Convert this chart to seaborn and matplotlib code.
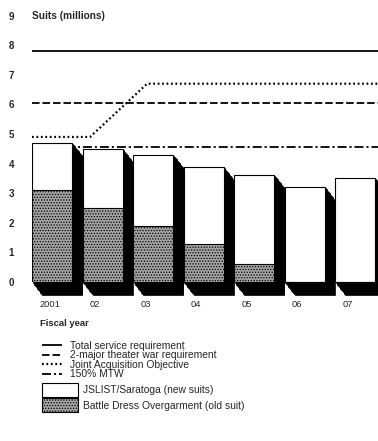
import matplotlib
matplotlib.use("Agg")
import matplotlib.pyplot as plt
import seaborn as sns
import pandas as pd
from matplotlib.transforms import ScaledTranslation, blended_transform_factory
from matplotlib.patches import Rectangle, Patch
from matplotlib.lines import Line2D

# ---- data (suits, millions) ----
fiscal_years = ["2001", "02", "03", "04", "05", "06", "07"]
total_suits = [4.7, 4.5, 4.3, 3.9, 3.6, 3.2, 3.5]        # JSLIST/Saratoga + BDO
old_suits = [3.1, 2.5, 1.9, 1.3, 0.6, 0.0, 0.0]          # Battle Dress Overgarment

total_service_req = 7.8
two_mtw_req = 6.05
mtw_150 = 4.55
jao_pos = [-0.4, 0.75, 1.88, 6.45]                        # positions along fiscal-year axis
jao_values = [4.9, 4.9, 6.7, 6.7]
y_ticks = list(range(10))

sns.set_style("white")
plt.rcParams["font.family"] = ["Liberation Sans", "DejaVu Sans"]
plt.rcParams["hatch.linewidth"] = 0.6

DPI = 100
fig = plt.figure(figsize=(3.78, 4.41), dpi=DPI)
ax = fig.add_axes([32 / 378, 159 / 441, 346 / 378, 266.4 / 441])

df = pd.DataFrame({"year": fiscal_years, "total": total_suits, "old": old_suits})
OLD_GRAY = "#a4a4a4"

# front faces of the bars
sns.barplot(data=df, x="year", y="total", order=fiscal_years, color="white",
            saturation=1, edgecolor="black", linewidth=0.8, width=0.8,
            zorder=3, ax=ax)
sns.barplot(data=df, x="year", y="old", order=fiscal_years, color=OLD_GRAY,
            saturation=1, edgecolor="black", linewidth=0.8, width=0.8,
            hatch="......", zorder=4, ax=ax)

# extruded (3-D) dark sides: stacked offset copies of each bar
depth_x, depth_y = 10, 13
for bar in ax.containers[0].patches:
    for k in range(1, depth_y + 1):
        off = ScaledTranslation(k * depth_x / depth_y / DPI, -k / DPI, fig.dpi_scale_trans)
        ax.add_patch(Rectangle((bar.get_x(), bar.get_y()), bar.get_width(), bar.get_height(),
                               facecolor="black", edgecolor="black", linewidth=0.5,
                               transform=ax.transData + off, zorder=2, clip_on=False))

# requirement lines
style_total = dict(color="black", lw=1.3, solid_capstyle="butt")
style_mtw2 = dict(color="black", lw=1.3, dashes=(4.2, 1.6))
style_jao = dict(color="black", lw=1.6, dashes=(0.8, 1.2))
style_mtw150 = dict(color="black", lw=1.3, dashes=(5, 1.6, 1.2, 1.6))

ax.axhline(total_service_req, zorder=1, **style_total)
ax.axhline(two_mtw_req, zorder=1, **style_mtw2)
ax.axhline(mtw_150, zorder=1, **style_mtw150)
sns.lineplot(x=jao_pos, y=jao_values, ax=ax, zorder=1, sort=False, **style_jao)

ax.set_xlim(-0.4, 6.45)
ax.set_ylim(0, 9)
sns.despine(ax=ax, left=True, bottom=True)
ax.set_xlabel("")
ax.set_ylabel("")
ax.grid(False)

ax.set_yticks(y_ticks)
ax.set_yticklabels([str(t) for t in y_ticks], fontsize=7, fontweight="bold")
ax.tick_params(axis="y", length=0, pad=13)
ax.tick_params(axis="x", length=0, pad=13)
ax.set_xticks(range(len(fiscal_years)))
ax.set_xticklabels(fiscal_years, fontsize=6.7, ha="left")
shift = ScaledTranslation(-13 / DPI, 0, fig.dpi_scale_trans)
for lab in ax.get_xticklabels():
    lab.set_transform(lab.get_transform() + shift)

# titles
trans = blended_transform_factory(ax.transAxes, ax.transData)
ax.text(0, 9, "Suits (millions)", transform=trans, fontsize=7.3,
        fontweight="bold", va="center", ha="left")
fig.text(40 / 378, 1 - 323 / 441, "Fiscal year", fontsize=6.8,
         fontweight="bold", va="center", ha="left")

# legends
line_handles = [Line2D([], [], **style_total), Line2D([], [], **style_mtw2),
                Line2D([], [], **style_jao), Line2D([], [], **style_mtw150)]
line_labels = ["Total service requirement", "2-major theater war requirement",
               "Joint Acquisition Objective", "150% MTW"]
leg1 = fig.legend(line_handles, line_labels, loc="upper left",
                  bbox_to_anchor=(42 / 378, 1 - 341 / 441), frameon=False,
                  fontsize=7.4, handlelength=1.95, handletextpad=0.8,
                  labelspacing=-0.06, borderpad=0, borderaxespad=0)

patch_handles = [Patch(facecolor="white", edgecolor="black", linewidth=0.8),
                 Patch(facecolor=OLD_GRAY, edgecolor="black", linewidth=0.8, hatch="......")]
patch_labels = ["JSLIST/Saratoga (new suits)", "Battle Dress Overgarment (old suit)"]
leg2 = fig.legend(patch_handles, patch_labels, loc="upper left",
                  bbox_to_anchor=(42 / 378, 1 - 383 / 441), frameon=False,
                  fontsize=7.4, handlelength=3.5, handleheight=1.7,
                  handletextpad=0.5, labelspacing=0.15, borderpad=0, borderaxespad=0)

fig.savefig("out.png", dpi=DPI)
